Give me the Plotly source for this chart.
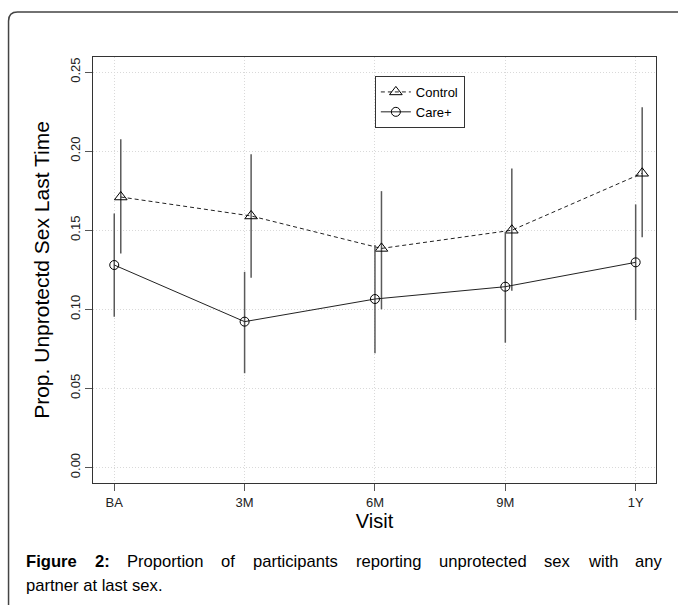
import plotly.graph_objects as go

# ---- data ----
visits = ["BA", "3M", "6M", "9M", "1Y"]
visit_pos = [1, 2, 3, 4, 5]
control = [0.171, 0.159, 0.1385, 0.150, 0.186]
control_lo = [0.1353, 0.120, 0.100, 0.1117, 0.1455]
control_hi = [0.2075, 0.198, 0.1747, 0.189, 0.2277]
care = [0.128, 0.0922, 0.1065, 0.1143, 0.1297]
care_lo = [0.0953, 0.0596, 0.0722, 0.0789, 0.0932]
care_hi = [0.1606, 0.1237, 0.1406, 0.149, 0.1663]
ytick_vals = [0.00, 0.05, 0.10, 0.15, 0.20, 0.25]
ytick_text = ["0.00", "0.05", "0.10", "0.15", "0.20", "0.25"]
control_offset = 0.05
caption_line1 = ["Figure", "2:", "Proportion", "of", "participants", "reporting",
                 "unprotected", "sex", "with", "any"]
caption_bold_words = 2
caption_line2 = "partner at last sex."

W, H = 678, 605
L, R, T, B = 93, 656.3, 57, 483.3
FONT = "Liberation Sans, Arial, sans-serif"
CAP_SIZE = 16.6


def px2paper_x(px):
    return (px - L) / (R - L)


def px2paper_y(py):
    return (B - py) / (B - T)


# approximate Arial advance widths (em) for caption justification
REG = dict(zip("abcdefghijklmnopqrstuvwxyz",
               [.556, .556, .5, .556, .556, .278, .556, .556, .222, .222, .5, .222, .833,
                .556, .556, .556, .556, .333, .5, .278, .556, .5, .722, .5, .5, .5]))
REG.update({"P": .667, "F": .611, "2": .556, ":": .278, ".": .278})
BOLD = dict(zip("abcdefghijklmnopqrstuvwxyz",
                [.556, .611, .556, .611, .556, .333, .611, .611, .278, .278, .556, .278, .889,
                 .611, .611, .611, .611, .389, .556, .333, .611, .556, .778, .556, .556, .5]))
BOLD.update({"F": .611, "2": .556, ":": .333})


def word_width(w, bold):
    tbl = BOLD if bold else REG
    return sum(tbl.get(c, .556) for c in w) * CAP_SIZE


fig = go.Figure()

ctrl_x = [v + control_offset for v in visit_pos]

fig.add_trace(go.Scatter(
    x=ctrl_x, y=control, name="Control", mode="lines+markers",
    line=dict(color="#222222", width=1, dash="4px,3px"),
    marker=dict(symbol="triangle-up-open", size=11, color="black", line=dict(width=1)),
    error_y=dict(type="data", symmetric=False,
                 array=[h - v for h, v in zip(control_hi, control)],
                 arrayminus=[v - l for v, l in zip(control, control_lo)],
                 color="#5a5a5a", thickness=1.5, width=0),
))
fig.add_trace(go.Scatter(
    x=visit_pos, y=care, name="Care+", mode="lines+markers",
    line=dict(color="#222222", width=1),
    marker=dict(symbol="circle-open", size=9, color="black", line=dict(width=1)),
    error_y=dict(type="data", symmetric=False,
                 array=[h - v for h, v in zip(care_hi, care)],
                 arrayminus=[v - l for v, l in zip(care, care_lo)],
                 color="#5a5a5a", thickness=1.5, width=0),
))

axis_common = dict(
    showline=True, mirror=True, linecolor="#333333", linewidth=1.3,
    ticks="outside", ticklen=7, tickcolor="#555555", tickwidth=1,
    showgrid=True, gridcolor="#d9d9d9", griddash="1px,2px", gridwidth=1,
    zeroline=False, tickfont=dict(family=FONT, size=13, color="#222222"),
)

fig.update_xaxes(
    range=[0.837, 5.156], tickmode="array", tickvals=visit_pos, ticktext=visits,
    title=dict(text="Visit", font=dict(family=FONT, size=20, color="black"), standoff=4),
    **axis_common,
)
fig.update_yaxes(
    range=[-0.0098, 0.2595], tickmode="array", tickvals=ytick_vals, ticktext=ytick_text,
    tickangle=-90,
    title=dict(text="Prop. Unprotectd Sex Last Time", font=dict(family=FONT, size=21, color="black"), standoff=12),
    **axis_common,
)

# outer frame with rounded top-left corner
x0, y0 = px2paper_x(8.5), px2paper_y(12)
x1, yb = px2paper_x(690), px2paper_y(620)
rx = 9 / (R - L)
ry = 9 / (B - T)
path = (f"M {x0},{yb} L {x0},{y0 - ry} Q {x0},{y0} {x0 + rx},{y0} L {x1},{y0}")
shapes = [dict(type="path", xref="paper", yref="paper", path=path,
               line=dict(color="#444444", width=1.5))]

# caption: first line justified between two pixel bounds
cap_left, cap_right = 24, 660
widths = [word_width(w, i < caption_bold_words) for i, w in enumerate(caption_line1)]
gap = (cap_right - cap_left - sum(widths)) / (len(caption_line1) - 1)
annotations = []
xpos = cap_left
for i, (w, wd) in enumerate(zip(caption_line1, widths)):
    txt = f"<b>{w}</b>" if i < caption_bold_words else w
    annotations.append(dict(text=txt, x=px2paper_x(xpos), y=px2paper_y(562), xref="paper", yref="paper",
                            xanchor="left", yanchor="middle", showarrow=False,
                            font=dict(family=FONT, size=CAP_SIZE, color="black")))
    xpos += wd + gap
annotations.append(dict(text=caption_line2, x=px2paper_x(cap_left), y=px2paper_y(586),
                        xref="paper", yref="paper", xanchor="left", yanchor="middle",
                        showarrow=False, font=dict(family=FONT, size=CAP_SIZE, color="black")))

fig.update_layout(
    width=W, height=H,
    margin=dict(l=L, r=W - R, t=T, b=H - B),
    paper_bgcolor="white", plot_bgcolor="white",
    font=dict(family=FONT, color="black"),
    showlegend=True,
    legend=dict(x=px2paper_x(375), y=px2paper_y(76), xanchor="left", yanchor="top",
                bordercolor="#333333", borderwidth=1, bgcolor="white",
                font=dict(family=FONT, size=13, color="black"),
                itemwidth=30, tracegroupgap=0),
    shapes=shapes,
    annotations=annotations,
)

fig.write_html("out.html", config={"displayModeBar": False},
               post_script="document.body.style.margin='0';document.body.style.overflow='hidden';")
